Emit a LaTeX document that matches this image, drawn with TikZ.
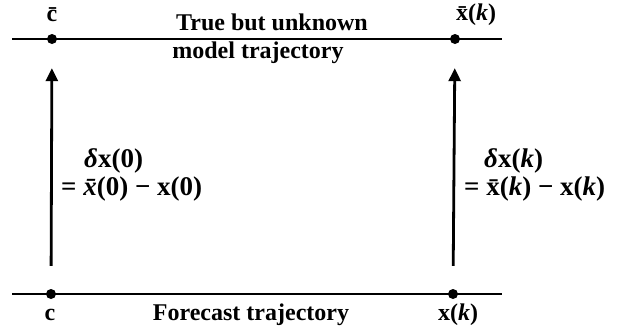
\documentclass[tikz,border=0pt]{standalone}
\usepackage{fontspec}
\setmainfont{Liberation Serif}
\usetikzlibrary{arrows.meta}
\begin{document}
\begin{tikzpicture}[x=1pt,y=-1pt,
  lbl/.style={font=\fontsize{24}{28}\selectfont\bfseries, inner sep=0pt},
  mlbl/.style={font=\fontsize{27}{31}\selectfont\bfseries, inner sep=0pt, anchor=west},
  traj/.style={line width=2.8pt},
  dot/.style={circle, fill=black, inner sep=0pt, minimum size=10pt},
  arr/.style={line width=2.8pt, -{Triangle[length=13pt,width=12pt]}}]
\useasboundingbox (0,0) rectangle (618,330);
% trajectories
\coordinate (tl) at (12,39);
\coordinate (tr) at (502,39);
\coordinate (bl) at (12,294);
\coordinate (br) at (502,294);
\draw[traj] (tl) -- (tr);
\draw[traj] (bl) -- (br);
% dots
\node[dot] (cbar) at (52,39) {};
\node[dot] (xbark) at (455,39) {};
\node[dot] (c) at (51,294) {};
\node[dot] (xk) at (453,294) {};
% arrows
\draw[arr, shorten <=23pt, shorten >=24pt] (c) -- (cbar);
\draw[arr, shorten <=23pt, shorten >=24pt] (xk) -- (xbark);
% labels
\node[lbl] (lcbar) at (52,15) {\={c}};
\node[lbl] (lxbark) at (476,15) {\={x}({\itshape k})};
\node[lbl] (ltrue) at (272,22) {True but unknown};
\node[lbl] (lmodel) at (258,53) {model trajectory};
\node[lbl] (lc) at (50,315) {c};
\node[lbl] (lfore) at (251,315) {Forecast trajectory};
\node[lbl] (lxk) at (458,315) {x({\itshape k})};
\node[mlbl] (d0a) at (84,161) {{\itshape δ}x(0)};
\node[mlbl] (d0b) at (61,189) {= {\itshape \={x}}(0) − x(0)};
\node[mlbl] (dka) at (484,161) {{\itshape δ}x({\itshape k})};
\node[mlbl] (dkb) at (464,189) {= \={x}({\itshape k}) − x({\itshape k})};
\end{tikzpicture}
\end{document}
